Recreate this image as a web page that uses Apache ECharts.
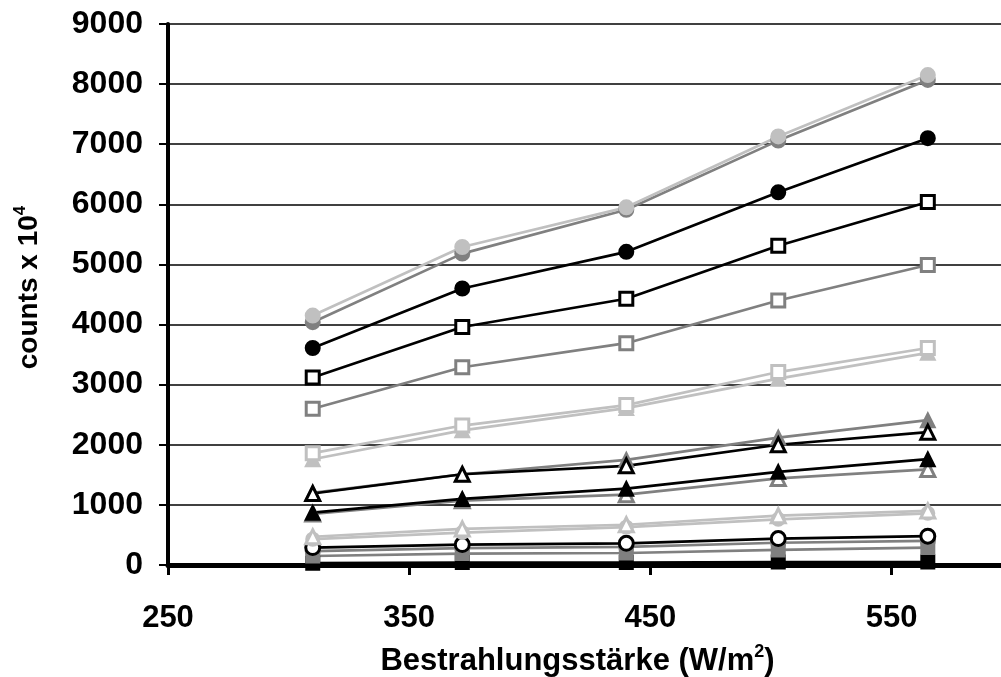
<!DOCTYPE html>
<html>
<head>
<meta charset="utf-8">
<script src="https://cdn.jsdelivr.net/npm/echarts@6/dist/echarts.min.js"></script>
<style>
html,body{margin:0;padding:0;background:#fff;overflow:hidden;}
#c{width:1001px;height:677px;overflow:hidden;}
</style>
</head>
<body>
<div id="c"></div>
<script>
// irradiance (W/m2)
const xValues = [310, 372, 440, 503, 565];
const yTicks = [0, 1000, 2000, 3000, 4000, 5000, 6000, 7000, 8000, 9000];
const xTicks = [250, 350, 450, 550];

// series values (counts x 10^4)
const lightGrayCircleTop = [4150, 5290, 5950, 7130, 8150];
const grayCircleTop = [4040, 5180, 5910, 7060, 8070];
const blackCircleFilled = [3610, 4600, 5210, 6200, 7100];
const blackSquareHollow = [3120, 3960, 4430, 5310, 6040];
const graySquareHollow = [2600, 3290, 3690, 4400, 4990];
const lightGraySquareHollow = [1860, 2320, 2660, 3210, 3610];
const lightGrayTriFilled = [1760, 2240, 2610, 3100, 3530];
const grayTriFilled = [1200, 1510, 1750, 2120, 2410];
const blackTriHollow = [1190, 1510, 1650, 2000, 2210];
const blackTriFilled = [870, 1100, 1270, 1550, 1760];
const grayTriHollow = [850, 1070, 1170, 1440, 1590];
const lightGrayTriHollow = [470, 600, 670, 820, 900];
const lightGrayCircleFilled = [430, 540, 630, 760, 860];
const blackCircleHollow = [290, 340, 360, 440, 480];
const grayCircleFilled = [230, 280, 300, 370, 400];
const graySquareFilled = [150, 190, 200, 250, 290];
const blackSquareFilled = [30, 40, 40, 50, 50];

const BLACK = '#000000', GRAY = '#808080', LGRAY = '#c0c0c0';

function mk(name, vals, color, symbol, hollow, size) {
  return {
    name: name,
    type: 'line',
    data: xValues.map((x, i) => [x, vals[i]]),
    symbol: symbol,
    symbolSize: size || 12,
    showAllSymbol: true,
    lineStyle: { color: color, width: 2.7 },
    itemStyle: { color: hollow ? '#ffffff' : color, borderColor: color, borderWidth: hollow ? 3 : 2 },
    emphasis: { disabled: true },
    animation: false
  };
}

const series = [
  mk('s18', blackSquareFilled, BLACK, 'rect', false, 13),
  mk('s17', graySquareFilled, GRAY, 'rect', false, 13),
  mk('s16', grayCircleFilled, GRAY, 'circle', false, 14),
  mk('s15', blackCircleHollow, BLACK, 'circle', true, 14),
  mk('s14', lightGrayCircleFilled, LGRAY, 'circle', false, 13),
  mk('s13', lightGrayTriHollow, LGRAY, 'triangle', true, 14),
  mk('s12', grayTriHollow, GRAY, 'triangle', true, 14),
  mk('s11', blackTriFilled, BLACK, 'triangle', false, 14),
  mk('s10', grayTriFilled, GRAY, 'triangle', false, 14),
  mk('s9', blackTriHollow, BLACK, 'triangle', true, 14),
  mk('s8', lightGrayTriFilled, LGRAY, 'triangle', false, 14),
  mk('s7', lightGraySquareHollow, LGRAY, 'rect', true, 13),
  mk('s6', graySquareHollow, GRAY, 'rect', true, 13),
  mk('s5', blackSquareHollow, BLACK, 'rect', true, 13),
  mk('s4', blackCircleFilled, BLACK, 'circle', false, 14),
  mk('s3', grayCircleTop, GRAY, 'circle', false, 14),
  mk('s2', lightGrayCircleTop, LGRAY, 'circle', false, 14)
];

const FONT = '"Liberation Sans", Arial, sans-serif';
const chart = echarts.init(document.getElementById('c'), null, { renderer: 'canvas', width: 1001, height: 677 });
chart.setOption({
  backgroundColor: '#ffffff',
  animation: false,
  grid: { left: 168, top: 24, right: -4, bottom: 112, containLabel: false, outerBoundsMode: 'none' },
  xAxis: [{
    type: 'value',
    min: xTicks[0],
    max: 597,
    interval: 100,
    axisLine: { show: true, onZero: false, lineStyle: { color: '#000', width: 5 } },
    axisTick: { show: true, length: 10, lineStyle: { color: '#000', width: 3 } },
    splitLine: { show: false },
    axisLabel: {
      margin: 38, color: '#000', fontSize: 31, fontWeight: 'bold', fontFamily: FONT,
      showMaxLabel: false,
      formatter: v => (xTicks.indexOf(v) >= 0 ? String(v) : '')
    },
    name: '{a|Bestrahlungsstärke (W/m}{s|2}{a|)}',
    nameLocation: 'middle',
    nameGap: 78,
    nameTextStyle: {
      padding: [0, 18, 0, 0],
      rich: {
        a: { fontSize: 31, fontWeight: 'bold', fontFamily: FONT, color: '#000', lineHeight: 36 },
        s: { fontSize: 18, fontWeight: 'bold', fontFamily: FONT, color: '#000', verticalAlign: 'top', lineHeight: 36, padding: [0, 0, 16, 0] }
      }
    }
  }, {
    type: 'value',
    position: 'top',
    min: xTicks[0],
    max: 597,
    axisLine: { show: true, lineStyle: { color: '#000', width: 4 } },
    axisTick: { show: false },
    axisLabel: { show: false },
    splitLine: { show: false }
  }],
  yAxis: {
    type: 'value',
    min: yTicks[0],
    max: yTicks[yTicks.length - 1],
    interval: 1000,
    axisLine: { show: true, onZero: false, lineStyle: { color: '#000', width: 4 } },
    axisTick: { show: true, length: 9, lineStyle: { color: '#000', width: 2 } },
    splitLine: { show: true, lineStyle: { color: '#000', width: 1.5 } },
    axisLabel: {
      margin: 25, color: '#000', fontSize: 32, fontWeight: 'bold', fontFamily: FONT,
      formatter: v => String(v)
    },
    name: '{a|counts x 10}{s|4}',
    nameLocation: 'middle',
    nameRotate: 90,
    nameGap: 122,
    nameTextStyle: {
      padding: [0, 0, 0, 14],
      rich: {
        a: { fontSize: 28, fontWeight: 'bold', fontFamily: FONT, color: '#000', lineHeight: 34 },
        s: { fontSize: 17, fontWeight: 'bold', fontFamily: FONT, color: '#000', verticalAlign: 'top', lineHeight: 34, padding: [0, 0, 16, 0] }
      }
    }
  },
  series: series
});
</script>
</body>
</html>
